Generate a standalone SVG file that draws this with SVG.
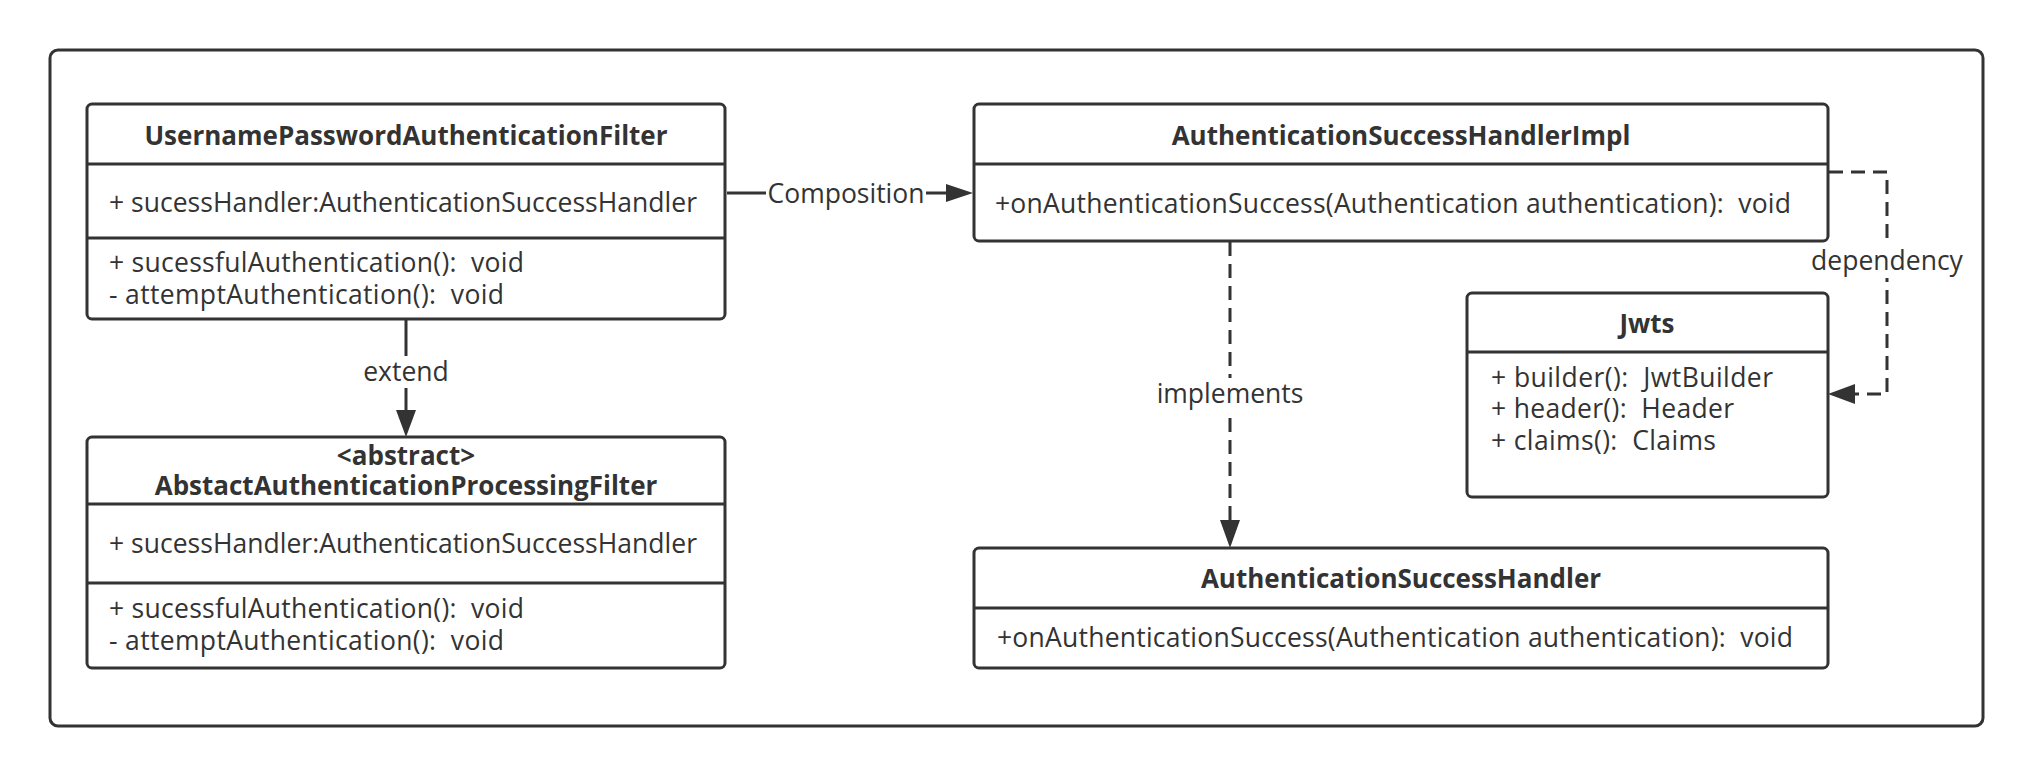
<svg xmlns="http://www.w3.org/2000/svg" width="2032" height="776" viewBox="0 0 2032 776">
<style>
.frame{fill:#fff;stroke:#333;stroke-width:3}
.box{fill:#fff;stroke:#333;stroke-width:3}
.div{stroke:#333;stroke-width:3;fill:none}
.t{font-family:"Open Sans","Noto Sans CJK SC",sans-serif;font-size:26.5px;fill:#333;white-space:pre}
.b{font-weight:bold;text-anchor:middle;font-size:26px}
.line{stroke:#333;stroke-width:3;fill:none}
.dash{stroke:#333;stroke-width:3;fill:none;stroke-dasharray:14 8}
.head{fill:#333;stroke:none}
.lbl{fill:#fff;stroke:none}
</style>
<rect width="2032" height="776" fill="#fff"/>
<rect class="frame" x="50" y="50" width="1933" height="676" rx="8"/>

<g id="connectors">
  <!-- Composition -->
  <path class="line" d="M727,193 H946"/>
  <polygon class="head" points="946,184 973,193 946,202"/>
  <rect class="lbl" x="766" y="178" width="160" height="32"/>
  <text class="t" x="846" y="203" text-anchor="middle">Composition</text>
  <!-- extend -->
  <path class="line" d="M406,320 V411"/>
  <polygon class="head" points="396,410 406,437 416,410"/>
  <rect class="lbl" x="360" y="356" width="92" height="32"/>
  <text class="t" x="406" y="381" text-anchor="middle">extend</text>
  <!-- implements -->
  <path class="dash" d="M1230,242 V521"/>
  <polygon class="head" points="1220,520 1230,548 1240,520"/>
  <rect class="lbl" x="1154" y="378" width="152" height="32"/>
  <text class="t" x="1230" y="403" text-anchor="middle">implements</text>
  <!-- dependency -->
  <path class="dash" d="M1829,172 H1887 V394 H1854"/>
  <polygon class="head" points="1855,384 1828,394 1855,404"/>
  <rect class="lbl" x="1808" y="246" width="158" height="32"/>
  <text class="t" x="1887" y="270" text-anchor="middle">dependency</text>
</g>

<g id="UsernamePasswordAuthenticationFilter">
  <rect class="box" x="87" y="104" width="638" height="215" rx="5"/>
  <path class="div" d="M87,164 H725 M87,238 H725"/>
  <text class="t b" x="406" y="145">UsernamePasswordAuthenticationFilter</text>
  <text class="t" x="109" y="212" textLength="588">+ sucessHandler:AuthenticationSuccessHandler</text>
  <text class="t" x="109" y="272" textLength="415">+ sucessfulAuthentication():  void</text>
  <text class="t" x="109" y="304" textLength="395">- attemptAuthentication():  void</text>
</g>

<g id="AbstactAuthenticationProcessingFilter">
  <rect class="box" x="87" y="437" width="638" height="231" rx="5"/>
  <path class="div" d="M87,504 H725 M87,583 H725"/>
  <text class="t b" x="406" y="465">&lt;abstract&gt;</text>
  <text class="t b" x="406" y="495">AbstactAuthenticationProcessingFilter</text>
  <text class="t" x="109" y="553" textLength="588">+ sucessHandler:AuthenticationSuccessHandler</text>
  <text class="t" x="109" y="618" textLength="415">+ sucessfulAuthentication():  void</text>
  <text class="t" x="109" y="650" textLength="395">- attemptAuthentication():  void</text>
</g>

<g id="AuthenticationSuccessHandlerImpl">
  <rect class="box" x="974" y="104" width="854" height="137" rx="5"/>
  <path class="div" d="M974,164 H1828"/>
  <text class="t b" x="1401" y="145">AuthenticationSuccessHandlerImpl</text>
  <text class="t" x="995" y="213" textLength="796">+onAuthenticationSuccess(Authentication authentication):  void</text>
</g>

<g id="Jwts">
  <rect class="box" x="1467" y="293" width="361" height="204" rx="5"/>
  <path class="div" d="M1467,352 H1828"/>
  <text class="t b" x="1647" y="333">Jwts</text>
  <text class="t" x="1491" y="387" textLength="282">+ builder():  JwtBuilder</text>
  <text class="t" x="1491" y="418" textLength="243">+ header():  Header</text>
  <text class="t" x="1491" y="450" textLength="225">+ claims():  Claims</text>
</g>

<g id="AuthenticationSuccessHandler">
  <rect class="box" x="974" y="548" width="854" height="120" rx="5"/>
  <path class="div" d="M974,608 H1828"/>
  <text class="t b" x="1401" y="588">AuthenticationSuccessHandler</text>
  <text class="t" x="997" y="647" textLength="796">+onAuthenticationSuccess(Authentication authentication):  void</text>
</g>
</svg>
